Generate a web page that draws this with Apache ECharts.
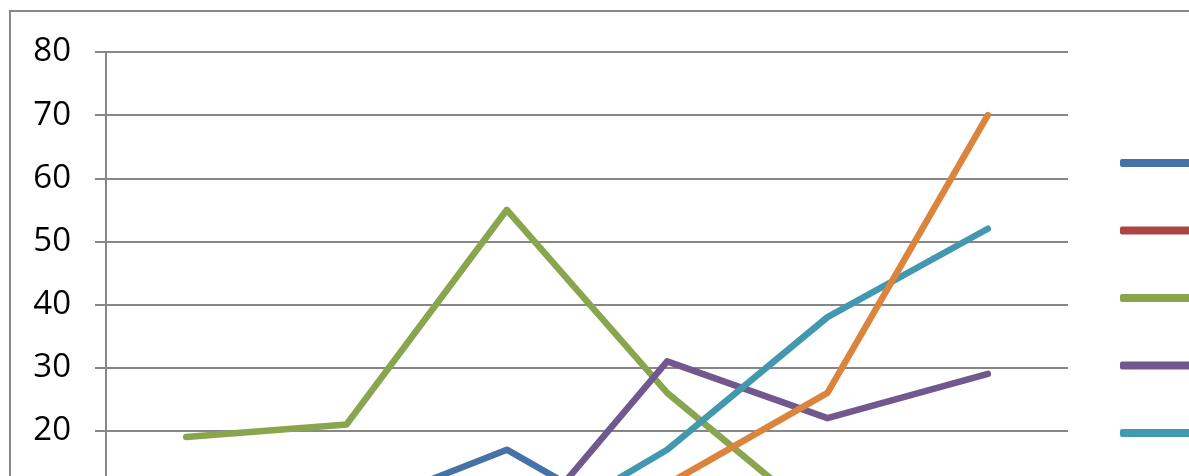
<!DOCTYPE html>
<html>
<head>
<meta charset="utf-8">
<script src="https://cdn.jsdelivr.net/npm/echarts@6/dist/echarts.min.js"></script>
<style>
  html, body { margin: 0; padding: 0; width: 1189px; height: 476px; overflow: hidden; background: #fff; }
  #frame { position: absolute; left: 9px; top: 10px; width: 1300px; height: 700px; border: 2px solid #888; box-sizing: border-box; }
  #chart { position: absolute; left: 0; top: 0; width: 1320px; height: 640px; }
</style>
</head>
<body>
<div id="frame"></div>
<div id="chart"></div>
<script>
const categories = ['1', '2', '3', '4', '5', '6'];
const seriesNames = ['Series1', 'Series2', 'Series3', 'Series4', 'Series5', 'Series6'];
const series1 = [5, 7, 17, 2.5, 6, 8];
const series2 = [3, 4, 2, 5, 9, 6];
const series3 = [19, 21, 55, 26, 5, 2];
const series4 = [6, 4, 1, 31, 22, 29];
const series5 = [3, 5, 2, 17, 38, 52];
const series6 = [2, 4, 6, 11.5, 26, 70];
const yTicks = { min: 0, max: 80, interval: 10 };

const colors = ['#4572A7', '#AA4643', '#89A54E', '#71588F', '#4198AF', '#DB843D'];
const allData = [series1, series2, series3, series4, series5, series6];

const chart = echarts.init(document.getElementById('chart'), null, { renderer: 'canvas' });
chart.setOption({
  animation: false,
  color: colors,
  grid: { left: 106, top: 52, width: 962, height: 505, containLabel: false },
  legend: {
    orient: 'vertical',
    left: 1115,
    top: 148,
    icon: 'roundRect',
    itemWidth: 110,
    itemHeight: 8,
    itemGap: 47.5,
    textStyle: { fontSize: 20, lineHeight: 20, color: '#000', fontFamily: 'Open Sans' },
    data: seriesNames
  },
  xAxis: {
    type: 'category',
    data: categories,
    boundaryGap: true,
    axisLine: { lineStyle: { color: '#878787', width: 2 } },
    axisTick: { show: false },
    axisLabel: { fontSize: 32, fontFamily: 'Open Sans', color: '#000' }
  },
  yAxis: {
    type: 'value',
    min: yTicks.min,
    max: yTicks.max,
    interval: yTicks.interval,
    axisLine: { show: true, lineStyle: { color: '#878787', width: 2 } },
    axisTick: { show: true, length: 11, lineStyle: { color: '#878787', width: 2 } },
    splitLine: { show: true, lineStyle: { color: '#878787', width: 2 } },
    axisLabel: { margin: 35, fontSize: 33, fontFamily: 'Open Sans', color: '#000' }
  },
  series: allData.map((d, i) => ({
    name: seriesNames[i],
    type: 'line',
    data: d,
    symbol: 'none',
    lineStyle: { width: 6.5, cap: 'round', join: 'round', color: colors[i] },
    itemStyle: { color: colors[i] }
  }))
});
</script>
</body>
</html>
